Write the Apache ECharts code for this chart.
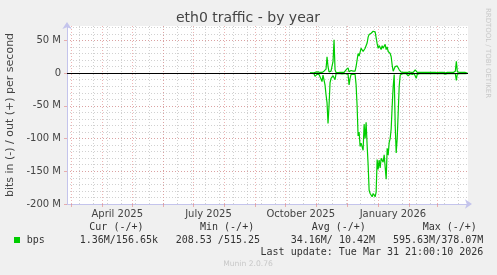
<!DOCTYPE html>
<html><head><meta charset="utf-8">
<script src="https://cdn.jsdelivr.net/npm/echarts@6/dist/echarts.min.js"></script>
<style>html,body{margin:0;padding:0;background:#F0F0F0}#c{width:497px;height:275px}</style>
</head><body><div id="c"></div>
<script>
// ---- data (Mbit/s, one value per day) ----
const firstDay = '2025-10-25T06:00:00Z';
const outM = [
 0.5,0.4,0.5,0.6,0.5,1,1.5,2.5,2,1.5, 1,0.8,1,4,3,2,6,25,10,2,
 1,3,2,18,51,5,1,1,0.8,1.2, 1,0.8,1,1.5,1,2,5,3,8,2,
 1,4,2,3,2,3,
 10,20,30,26,28,38,41,33,30,38, 36,46,55,59,62,61,63,64,66,63,
 65,45,38,42,40,36,42,38,40,44, 36,40,33,36,30,25,12,3,6,10,
 13,11,12,5,2,
 1.5,1,1,2,1,1,1,1,2,3, 1,2,1,1,5,2,1,1,1,1,
 1,0.8,1,1,1,0.8,1,1,1,1, 1,1,1,1,1,1,0.8,1,1,1,
 1,1,1,1,0.5,1,1,1,1,1, 1,1,1,1,3,18,2,1,1,1,
 1,1,1,1,1,1,0.2
];
const inM = [
 0.3,0.5,0.4,0.5,1,5,7,2,1,2, 4,9,13,3,2,18,33,45,77,50,
 15,8,6,4,2,10,1,0.8,1,1, 0.8,1,1.2,1,0.8,1,1,1,2,18,
 8,2,1,2,1,2,
 18,50,96,90,112,107,110,118,78,100, 75,110,140,179,184,186,189,184,186,189,
 182,132,147,133,145,130,132,136,125,128, 162,115,125,106,100,85,50,20,2,80,
 122,100,60,20,3,
 1,1,2,1,3,1,1,4,1,1, 1.5,2,1,1,1,8,2,1,1,1,
 1,1,1,1,1,1,1,1,1,1, 1,1,1,1,1,1,1,1,1,1,
 1,1,1,1,1.5,1,1,1,1,1, 1,1,1,1,1,11,1,1,1,1,
 1,1,1,1,1,1,0.3
];
const xStart = '2025-02-24T21:00:00Z';
const xEnd = '2026-03-31T21:00:00Z';
const monthStarts = ['2025-03-01','2025-04-01','2025-05-01','2025-06-01','2025-07-01','2025-08-01','2025-09-01','2025-10-01','2025-11-01','2025-12-01','2026-01-01','2026-02-01','2026-03-01'];
const labelDates = ['2025-04-16','2025-07-16','2025-10-16','2026-01-16'];
const xLabels = ['April 2025','July 2025','October 2025','January 2026'];
const minorStart = '2025-03-09';
const yMajor = [-200,-150,-100,-50,0,50];
const yLabels = ['-200 M','-150 M','-100 M','-50 M','0','50 M'];
const yMin = -200, yMax = 72;
const title = 'eth0 traffic - by year';
const yName = 'bits in (-) / out (+) per second';
const legendHeader = ['Cur (-/+)','Min (-/+)','Avg (-/+)','Max (-/+)'];
const seriesName = 'bps';
const legendValues = ['1.36M/156.65k','208.53 /515.25','34.16M/ 10.42M','595.63M/378.07M'];
const lastUpdate = 'Last update: Tue Mar 31 21:00:10 2026';
const footer = 'Munin 2.0.76';
const watermark = 'RRDTOOL / TOBI OETIKER';

// ---- build ----
const DAY = 86400000;
const t0 = Date.parse(firstDay);
const outData = outM.map((v,i)=>[t0+i*DAY, v*1e6]);
const inData = inM.map((v,i)=>[t0+i*DAY, -v*1e6]);
const xmin = Date.parse(xStart), xmax = Date.parse(xEnd);
const monthMs = monthStarts.map(d=>Date.parse(d+'T00:00:00Z'));
const labelMs = labelDates.map(d=>Date.parse(d+'T00:00:00Z'));
const minorMs = [];
for (let t = Date.parse(minorStart+'T00:00:00Z'); t < xmax; t += 14*DAY) minorMs.push(t);
const yMinor = [];
for (let v = yMin; v < yMax; v += 10) yMinor.push(v*1e6);

const FONT = '"DejaVu Sans", sans-serif';
const MONO = '"DejaVu Sans Mono", monospace';
const axisCol = '#C4C4EC';
const majorCol = 'rgba(225,130,130,0.6)';
const minorCol = 'rgba(190,190,190,0.7)';

const chart = echarts.init(document.getElementById('c'), null, {renderer:'canvas'});
const graphics = [
  {type:'text', x:248, y:18.5, style:{text:title, font:'14px '+FONT, fill:'#444', align:'center', verticalAlign:'middle'}},
  {type:'text', x:10.5, y:115, rotation:Math.PI/2, style:{text:yName, font:'11px '+FONT, fill:'#444', align:'center', verticalAlign:'middle'}},
  {type:'text', x:487.5, y:53, rotation:-Math.PI/2, style:{text:watermark, font:'7px '+FONT, fill:'#C8C8C8', align:'center', verticalAlign:'middle'}},
  {type:'rect', shape:{x:14, y:237, width:6, height:6}, style:{fill:'#00CC00'}},
  {type:'text', x:26.7, y:240, style:{text:seriesName, font:'10px '+MONO, fill:'#333', align:'left', verticalAlign:'middle'}},
  {type:'text', x:483.3, y:252, style:{text:lastUpdate, font:'10px '+MONO, fill:'#333', align:'right', verticalAlign:'middle'}},
  {type:'text', x:248, y:264, style:{text:footer, font:'7.6px '+FONT, fill:'#C8C8C8', align:'center', verticalAlign:'middle'}}
];
const hx = [89.3,200,311.7,422.7];
const vx = [158,260,375,483.3];
legendHeader.forEach((s,i)=>graphics.push({type:'text', x:hx[i], y:227, style:{text:s, font:'10px '+MONO, fill:'#333', align:'left', verticalAlign:'middle'}}));
legendValues.forEach((s,i)=>graphics.push({type:'text', x:vx[i], y:240, style:{text:s, font:'10px '+MONO, fill:'#333', align:'right', verticalAlign:'middle'}}));

chart.setOption({
  backgroundColor:'#F0F0F0',
  animation:false,
  textStyle:{fontFamily:FONT},
  grid:{left:67, right:29, top:26, bottom:71, show:true, backgroundColor:'#FFFFFF', borderWidth:0},
  xAxis:[
    {type:'value', min:xmin, max:xmax, z:3,
     axisLine:{show:true, onZero:false, lineStyle:{color:axisCol, width:1}, symbol:['none','arrow'], symbolSize:[7,7], symbolOffset:[0,4]},
     axisTick:{show:true, customValues:monthMs, length:3, lineStyle:{color:majorCol}},
     splitLine:{show:true, lineStyle:{color:majorCol, width:1, type:[1,2]}},
     axisLabel:{show:true, customValues:labelMs, margin:5, fontSize:10, color:'#444', fontFamily:FONT,
       formatter:(v)=>{const k=labelMs.indexOf(v); return k>=0?xLabels[k]:'';}}},
    {type:'value', min:xmin, max:xmax, z:1, position:'bottom',
     axisLine:{show:false, onZero:false}, axisTick:{show:false, customValues:minorMs}, axisLabel:{show:false},
     splitLine:{show:true, lineStyle:{color:minorCol, width:1, type:[1,2]}}}
  ],
  yAxis:[
    {type:'value', min:yMin*1e6, max:yMax*1e6, z:3,
     axisLine:{show:true, onZero:false, lineStyle:{color:axisCol, width:1}, symbol:['none','arrow'], symbolSize:[7,7], symbolOffset:[0,4]},
     axisTick:{show:true, customValues:yMajor.map(v=>v*1e6), length:3, lineStyle:{color:majorCol}},
     splitLine:{show:true, lineStyle:{color:majorCol, width:1, type:[1,2]}},
     axisLabel:{show:true, customValues:yMajor.map(v=>v*1e6), margin:6, fontSize:10, color:'#444', fontFamily:FONT,
       formatter:(v)=>{const k=yMajor.indexOf(Math.round(v/1e6)); return k>=0?yLabels[k]:'';}}},
    {type:'value', min:yMin*1e6, max:yMax*1e6, z:1, position:'left',
     axisLine:{show:false, onZero:false}, axisTick:{show:false, customValues:yMinor}, axisLabel:{show:false},
     splitLine:{show:true, lineStyle:{color:minorCol, width:1, type:[1,2]}}}
  ],
  series:[
    {name:'out', type:'line', xAxisIndex:0, yAxisIndex:0, data:outData, showSymbol:false, symbol:'none',
     lineStyle:{color:'#00CC00', width:1.2}, z:4},
    {name:'in', type:'line', xAxisIndex:0, yAxisIndex:0, data:inData, showSymbol:false, symbol:'none',
     lineStyle:{color:'#00CC00', width:1.2}, z:4},
    {name:'zero', type:'line', xAxisIndex:0, yAxisIndex:0, data:[], z:6,
     markLine:{silent:true, symbol:['none','none'], label:{show:false}, lineStyle:{color:'#000', width:1, type:'solid'}, data:[{yAxis:0}]}}
  ],
  graphic:graphics
});
</script></body></html>
